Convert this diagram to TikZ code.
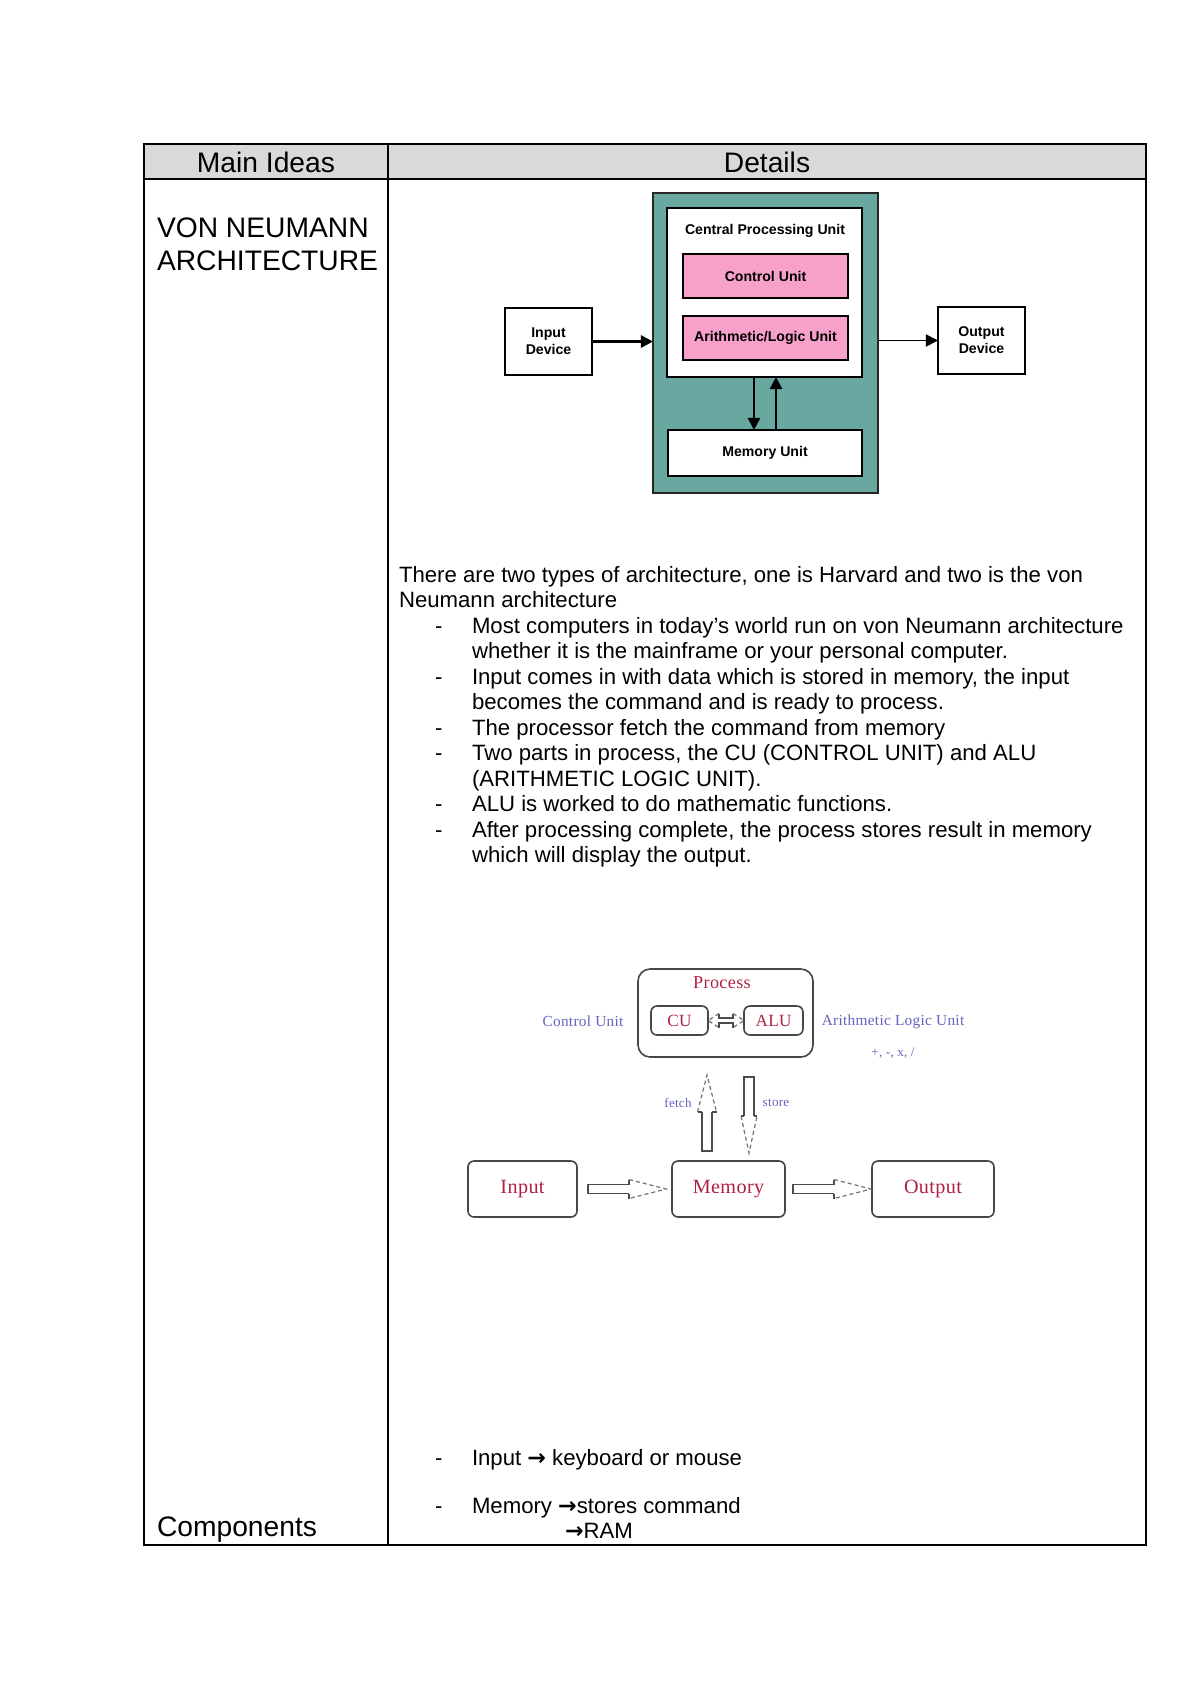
\documentclass[tikz,border=0pt]{standalone}
\usepackage{fontspec}
\setmainfont{Liberation Sans}
\newfontfamily\serifrm[LetterSpace=2]{Liberation Serif}
\newfontfamily\djv{DejaVu Sans}
\newcommand{\rarr}{{\djv\bfseries →}}
\usetikzlibrary{arrows.meta,calc}
\definecolor{tealc}{RGB}{104,168,160}
\definecolor{pinkc}{RGB}{247,160,201}
\definecolor{headc}{RGB}{217,217,217}
\definecolor{redc}{RGB}{176,32,64}
\definecolor{bluec}{RGB}{100,100,190}
\begin{document}
\begin{tikzpicture}[x=0.49606pt,y=-0.49606pt,
  every node/.style={inner sep=0pt, outer sep=0pt},
  sz/.style 2 args={minimum width=#1*0.49606pt, minimum height=#2*0.49606pt},
  txt/.style={anchor=base west, font=\fontsize{11}{12.65}\selectfont},
  headt/.style={anchor=base, font=\fontsize{14}{16}\selectfont},
  bigt/.style={anchor=base west, font=\fontsize{14}{16}\selectfont},
  blk/.style={draw=black, line width=0.9pt, font=\bfseries\fontsize{7}{8.4}\selectfont, align=center},
  pbox/.style={blk, fill=pinkc},
  rbox/.style={draw=black!72, line width=0.8pt, rounded corners=3pt},
  redt/.style={text=redc, font=\serifrm\fontsize{8.5}{10}\selectfont},
  redbig/.style={text=redc, font=\serifrm\fontsize{10}{12}\selectfont},
  bluet/.style={text=bluec, font=\serifrm\fontsize{7.6}{9}\selectfont},
  bluesm/.style={text=bluec, font=\serifrm\fontsize{6.5}{8}\selectfont},
  arrline/.style={draw=black!70, line width=0.6pt},
  arrdash/.style={draw=black!55, line width=0.6pt, dash pattern=on 2pt off 1.5pt},
  pics/harrow/.style={code={
    \draw[arrline] (41,-4.5) -- (0,-4.5) -- (0,4.5) -- (41,4.5);
    \draw[arrline] (41,-4.5) -- (41,-9.5) (41,4.5) -- (41,9.5);
    \draw[arrdash] (41,-9.5) -- (78,0) -- (41,9.5);
  }},
  pics/uparrow/.style={code={
    \draw[arrline] (-5,-39) -- (-5,0) -- (5,0) -- (5,-39);
    \draw[arrline] (-5,-39) -- (-9.5,-39) (5,-39) -- (9.5,-39);
    \draw[arrdash] (-9.5,-39) -- (0,-76) -- (9.5,-39);
  }},
  pics/downarrow/.style={code={
    \draw[arrline] (-5,39) -- (-5,0) -- (5,0) -- (5,39);
    \draw[arrline] (-5,39) -- (-8,39) (5,39) -- (8,39);
    \draw[arrdash] (-8,39) -- (0,76) -- (8,39);
  }},
  pics/dblarrow/.style={code={
    \draw[arrdash] (11,-7) -- (0,0) -- (11,7);
    \draw[arrline] (11,-7) -- (11,-2.5) -- (25,-2.5) -- (25,-7);
    \draw[arrline] (11,7) -- (11,2.5) -- (25,2.5) -- (25,7);
    \draw[arrdash] (25,-7) -- (36,0) -- (25,7);
  }},
]
\path[use as bounding box, fill=white] (0,0) rectangle (1200,1698);

% ---------- table ----------
\fill[headc] (144,144) rectangle (1146,179);
\draw[line width=1.2pt] (144,179) -- (1146,179);
\draw[line width=0.9pt] (388,144) -- (388,1545);
\draw[line width=1.4pt] (144,144) rectangle (1146,1545);
\node[headt] (hmain) at (266,172) {Main Ideas};
\node[headt] (hdet) at (767,172) {Details};
\node[bigt] (von) at (157,237) {VON NEUMANN};
\node[bigt] (arch) at (157,270) {ARCHITECTURE};
\node[bigt] (comp) at (157,1536) {Components};

% ---------- top diagram ----------
\node[blk, fill=tealc, draw=black!85, sz={225}{300}] (teal) at (765.5,343) {};
\node[blk, fill=white, sz={195}{169}] (cpu) at (764.5,292.5) {};
\node[blk, draw=none] (cpul) at (765,231) {Central Processing Unit};
\node[pbox, sz={165}{44}] (cu) at (765.5,276) {Control Unit};
\node[pbox, sz={165}{44}] (alu) at (765.5,338) {Arithmetic/Logic Unit};
\node[blk, fill=white, sz={194}{46}] (mem) at (765,453) {Memory Unit};
\node[blk, sz={87}{67}] (indev) at (548.5,341.5) {Input\\Device};
\node[blk, sz={87}{67}] (outdev) at (981.5,340.5) {Output\\Device};
\coordinate (dx) at (754,0);
\coordinate (ux) at (776,0);
\draw[line width=1.3pt, -{Triangle[length=6pt,width=6pt]}] (indev.east) -- (indev.east -| teal.west);
\draw[line width=0.8pt, -{Triangle[length=6pt,width=6pt]}] (teal.east |- outdev.west) -- (outdev.west);
\draw[line width=1.3pt, -{Triangle[length=6pt,width=6pt]}] (cpu.south -| dx) -- (mem.north -| dx);
\draw[line width=1.3pt, -{Triangle[length=6pt,width=6pt]}] (mem.north -| ux) -- (cpu.south -| ux);

% ---------- text ----------
\node[txt] (l1) at (399,582) {There are two types of architecture, one is Harvard and two is the von};
\node[txt] (l2) at (399,607.5) {Neumann architecture};
\node[txt] (d1) at (435,633) {-};
\node[txt] (l3) at (472,633) {Most computers in today's world run on von Neumann architecture};
\node[txt] (l4) at (472,658.5) {whether it is the mainframe or your personal computer.};
\node[txt] (d2) at (435,684) {-};
\node[txt] (l5) at (472,684) {Input comes in with data which is stored in memory, the input};
\node[txt] (l6) at (472,709.5) {becomes the command and is ready to process.};
\node[txt] (d3) at (435,735) {-};
\node[txt] (l7) at (472,735) {The processor fetch the command from memory};
\node[txt] (d4) at (435,760.5) {-};
\node[txt] (l8) at (472,760.5) {Two parts in process, the CU (CONTROL UNIT) and ALU};
\node[txt] (l9) at (472,786) {(ARITHMETIC LOGIC UNIT).};
\node[txt] (d5) at (435,811.5) {-};
\node[txt] (l10) at (472,811.5) {ALU is worked to do mathematic functions.};
\node[txt] (d6) at (435,837) {-};
\node[txt] (l11) at (472,837) {After processing complete, the process stores result in memory};
\node[txt] (l12) at (472,862.5) {which will display the output.};

% ---------- second diagram ----------
\node[rbox, rounded corners=6pt, sz={175}{88}] (proc) at (725.5,1013) {};
\node[redt, font=\serifrm\fontsize{9}{10}\selectfont] (procl) at (722,983) {Process};
\node[rbox, redt, sz={57}{29}] (cu2) at (679.5,1020.5) {CU};
\node[rbox, redt, sz={59}{29}] (alu2) at (773.5,1020.5) {ALU};
\node[bluet] (cul) at (583,1021) {Control Unit};
\node[bluet] (alul) at (893,1022) {Arithmetic Logic Unit};
\node[bluesm] (ops) at (893,1053) {+, -, x, /};
\node[bluesm] (fl) at (678,1103) {fetch};
\node[bluesm] (sl) at (776,1103) {store};
\node[rbox, redbig, sz={109}{56}] (in2) at (522.5,1189) {Input};
\node[rbox, redbig, sz={113}{56}] (mem2) at (728.5,1189) {Memory};
\node[rbox, redbig, sz={122}{56}] (out2) at (933,1189) {Output};
\pic at (cu2.east) {dblarrow};
\pic at ($(in2.east)+(11,0)$) {harrow};
\pic at ($(mem2.east)+(8,0)$) {harrow};
\pic at ($(mem2.north)+(-21.5,-10)$) {uparrow};
\pic at ($(proc.south)+(23.5,20)$) {downarrow};

% ---------- components ----------
\node[txt] (d7) at (435,1465) {-};
\node[txt] (c1) at (472,1465) {Input \rarr{} keyboard or mouse};
\node[txt] (d8) at (435,1513) {-};
\node[txt] (c2) at (472,1513) {Memory \rarr stores command};
\node[txt] (c3) at (565,1538) {\rarr RAM};
\end{tikzpicture}
\end{document}
